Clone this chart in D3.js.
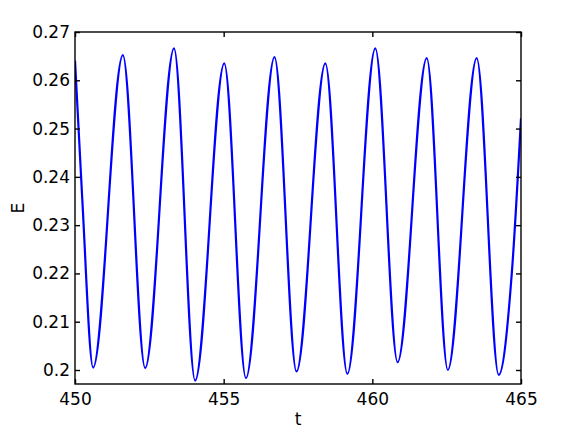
<!DOCTYPE html>
<html>
<head>
<meta charset="utf-8">
<script src="https://cdn.jsdelivr.net/npm/d3@7"></script>
<style>
  body { margin: 0; background: #fff; }
  svg text { font-family: "DejaVu Sans", Verdana, sans-serif; fill: #000; }
</style>
</head>
<body>
<div id="chart"></div>
<script>
// Values (t, E) at peaks, troughs and a few in-between points
const tValues = [450, 450.24, 450.61, 451.61, 452.36, 453.33, 454.04, 455.02, 455.75, 456.71,
                 457.45, 458.42, 459.16, 460.10, 460.85, 461.83, 462.54, 463.51, 464.25, 464.69, 465];
const eValues = [0.2641, 0.2359, 0.2005, 0.2652, 0.2004, 0.2666, 0.1978, 0.2635, 0.1983, 0.2648,
                 0.1997, 0.2635, 0.1992, 0.2666, 0.2016, 0.2646, 0.2000, 0.2646, 0.1990, 0.2200, 0.2521];
const xTicks = [450, 455, 460, 465];
const yTicks = [0.2, 0.21, 0.22, 0.23, 0.24, 0.25, 0.26, 0.27];
const yTickLabels = ["0.2", "0.21", "0.22", "0.23", "0.24", "0.25", "0.26", "0.27"];

function drawChart() {
  const margin = { top: 32, right: 55, bottom: 48, left: 75 };
  const width = 576 - margin.left - margin.right;
  const height = 432 - margin.top - margin.bottom;

  const svg = d3.select("#chart")
    .append("svg")
    .attr("width", 576)
    .attr("height", 432);

  const g = svg.append("g")
    .attr("transform", `translate(${margin.left},${margin.top})`);

  const x = d3.scaleLinear().domain([450, 465]).range([0, width]);
  const y = d3.scaleLinear().domain([0.1971, 0.27]).range([height, 0]);

  const data = tValues.map((t, i) => ({ t: t, e: eValues[i] }));

  svg.append("defs").append("clipPath")
    .attr("id", "clip")
    .append("rect")
    .attr("width", width)
    .attr("height", height);

  // Curve
  const line = d3.line()
    .x(d => x(d.t))
    .y(d => y(d.e))
    .curve(d3.curveMonotoneX);

  g.append("path")
    .datum(data)
    .attr("clip-path", "url(#clip)")
    .attr("fill", "none")
    .attr("stroke", "#0000ff")
    .attr("stroke-width", 2.2)
    .attr("d", line);

  // Axes, MATLAB style: ticks inside, box on
  const tickLen = 5;
  const fontSize = 17;

  const xAxis = g.append("g")
    .attr("transform", `translate(0,${height})`)
    .call(d3.axisBottom(x).tickValues(xTicks).tickSizeInner(-tickLen).tickSizeOuter(0).tickPadding(9).tickFormat(d3.format("d")));

  const xTop = g.append("g")
    .call(d3.axisTop(x).tickValues(xTicks).tickSizeInner(-tickLen).tickSizeOuter(0).tickFormat(""));

  const yAxis = g.append("g")
    .call(d3.axisLeft(y).tickValues(yTicks).tickSizeInner(-tickLen).tickSizeOuter(0).tickPadding(5)
      .tickFormat((d, i) => yTickLabels[i]));

  const yRight = g.append("g")
    .attr("transform", `translate(${width},0)`)
    .call(d3.axisRight(y).tickValues(yTicks).tickSizeInner(-tickLen).tickSizeOuter(0).tickFormat(""));

  [xAxis, xTop, yAxis, yRight].forEach(a => {
    a.selectAll(".domain").remove();
    a.selectAll("line").attr("stroke", "#000").attr("stroke-width", 1.4);
    a.selectAll("text").style("font-size", fontSize + "px").attr("fill", "#000");
  });

  // Box
  g.append("rect")
    .attr("width", width)
    .attr("height", height)
    .attr("fill", "none")
    .attr("stroke", "#000")
    .attr("stroke-width", 1.4);

  // Axis labels
  g.append("text")
    .attr("x", width / 2)
    .attr("y", height + 41)
    .style("text-anchor", "middle")
    .style("font-size", fontSize + "px")
    .text("t");

  g.append("text")
    .attr("transform", "rotate(-90)")
    .attr("x", -176)
    .attr("y", -margin.left + 24)
    .style("text-anchor", "middle")
    .style("font-size", fontSize + "px")
    .text("E");
}

document.addEventListener('DOMContentLoaded', function() {
  drawChart();
});
</script>
</body>
</html>
